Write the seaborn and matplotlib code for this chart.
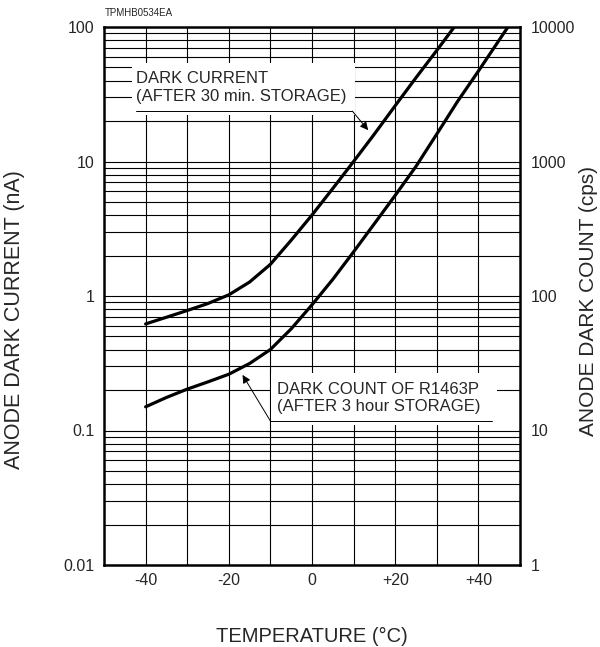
import numpy as np
import pandas as pd
import matplotlib
matplotlib.use("Agg")
import matplotlib.pyplot as plt
import seaborn as sns
from matplotlib.patches import Rectangle
from matplotlib.ticker import FixedLocator, LogLocator, NullFormatter

# dark current (nA), after 30 min storage
temp_current = [-40, -35, -30, -25, -20, -15, -10, -5, 0, 5, 10, 15, 20, 25, 30, 35]
dark_current = [0.62, 0.695, 0.78, 0.88, 1.02, 1.27, 1.72, 2.6, 4.0, 6.3, 10.0, 16, 26, 42, 67, 108]

# dark count of R1463P (cps), after 3 hour storage
temp_count = [-40, -35, -30, -25, -20, -15, -10, -5, 0, 5, 10, 15, 20, 25, 30, 35, 40, 45, 48]
dark_count = [15, 17.6, 20.3, 23.0, 26.2, 31.5, 40, 57, 86, 133, 213, 345, 560, 920, 1600, 2800, 4700, 8000, 11000]

x_ticks = [-40, -20, 0, 20, 40]
x_tick_labels = ["-40", "-20", "0", "+20", "+40"]
left_ticks = [0.01, 0.1, 1, 10, 100]
left_tick_labels = ["0.01", "0.1", "1", "10", "100"]
right_ticks = [1, 10, 100, 1000, 10000]
right_tick_labels = ["1", "10", "100", "1000", "10000"]

sns.set_style("white")
plt.rcParams["font.family"] = ["Liberation Sans", "DejaVu Sans"]

df_cur = pd.DataFrame({"temp": temp_current, "val": dark_current})
df_cnt = pd.DataFrame({"temp": temp_count, "val": dark_count})

fig = plt.figure(figsize=(6, 6.47), dpi=100)
ax = fig.add_axes([104 / 600, 1 - 565 / 647, 416 / 600, 538 / 647])

ax.set_yscale("log")
ax.set_xlim(-50, 50)
ax.set_ylim(0.01, 100)

# grid: every 10 degC, every log subdivision
ax.xaxis.set_major_locator(FixedLocator(x_ticks))
ax.xaxis.set_minor_locator(FixedLocator([-30, -10, 10, 30]))
ax.set_xticklabels(x_tick_labels)
ax.yaxis.set_major_locator(FixedLocator(left_ticks))
ax.set_yticklabels(left_tick_labels)
ax.yaxis.set_minor_locator(LogLocator(base=10, subs=np.arange(2, 10)))
ax.yaxis.set_minor_formatter(NullFormatter())
ax.grid(which="both", color="black", lw=0.8)
ax.set_axisbelow(True)
ax.tick_params(which="both", length=0)
ax.tick_params(axis="y", labelsize=11.5, pad=7)
ax.tick_params(axis="x", labelsize=11.5, pad=6)
for s in ax.spines.values():
    s.set_linewidth(1.8)
    s.set_color("black")

sns.lineplot(data=df_cur, x="temp", y="val", ax=ax, color="black", lw=2.3, zorder=5)

ax2 = ax.twinx()
ax2.set_yscale("log")
ax2.set_ylim(1, 10000)
ax2.yaxis.set_major_locator(FixedLocator(right_ticks))
ax2.set_yticklabels(right_tick_labels)
ax2.yaxis.set_minor_locator(FixedLocator([]))
ax2.tick_params(which="both", length=0, labelsize=11.5, pad=8)
sns.lineplot(data=df_cnt, x="temp", y="val", ax=ax2, color="black", lw=2.3, zorder=5)
ax2.set_xlim(-50, 50)
for s in ax2.spines.values():
    s.set_visible(False)

# label boxes hiding the grid
ax.add_patch(Rectangle((-43.3, 22.2), 53.6, 54 - 22.2, facecolor="white", edgecolor="none", zorder=2))
ax.add_patch(Rectangle((-9.8, 0.110), 54.3, 0.268 - 0.110, facecolor="white", edgecolor="none", zorder=2))

ax.text(-42.4, 35.5, "DARK CURRENT\n(AFTER 30 min. STORAGE)", fontsize=12, va="center", ha="left", zorder=3)
ax.plot([-42.4, 9.7], [23.7, 23.7], color="black", lw=0.7, zorder=3)
ax.annotate("", xy=(13.5, 17.1), xytext=(9.7, 23.7), zorder=3,
            arrowprops=dict(arrowstyle="-|>", color="black", lw=0.7, mutation_scale=12, shrinkA=0, shrinkB=0))

ax.text(-8.3, 0.1745, "DARK COUNT OF R1463P\n(AFTER 3 hour STORAGE)", fontsize=12, va="center", ha="left", zorder=3)
ax.plot([-10.0, 43.3], [0.1177, 0.1177], color="black", lw=0.7, zorder=3)
ax.annotate("", xy=(-16.7, 0.259), xytext=(-10.0, 0.1177), zorder=3,
            arrowprops=dict(arrowstyle="-|>", color="black", lw=0.7, mutation_scale=12, shrinkA=0, shrinkB=0))

ax.set_xlabel("TEMPERATURE (°C)", fontsize=14.5)
ax.xaxis.set_label_coords(0.5, -(636 - 565) / 538)
ax.xaxis.label.set_va("center")
ax.set_ylabel("ANODE DARK CURRENT (nA)", fontsize=15.5)
ax.yaxis.set_label_coords((15 - 104) / 416, (565 - 320) / 538)
ax.yaxis.label.set_va("center")
ax2.set_ylabel("ANODE DARK COUNT (cps)", fontsize=15, rotation=90)
ax2.yaxis.set_label_coords((589 - 104) / 416, (565 - 301) / 538)
ax2.yaxis.label.set_va("center")

fig.text(105 / 600, 1 - 13 / 647, "TPMHB0534EA", fontsize=7, va="center", ha="left")

fig.savefig("out.png", dpi=100)
